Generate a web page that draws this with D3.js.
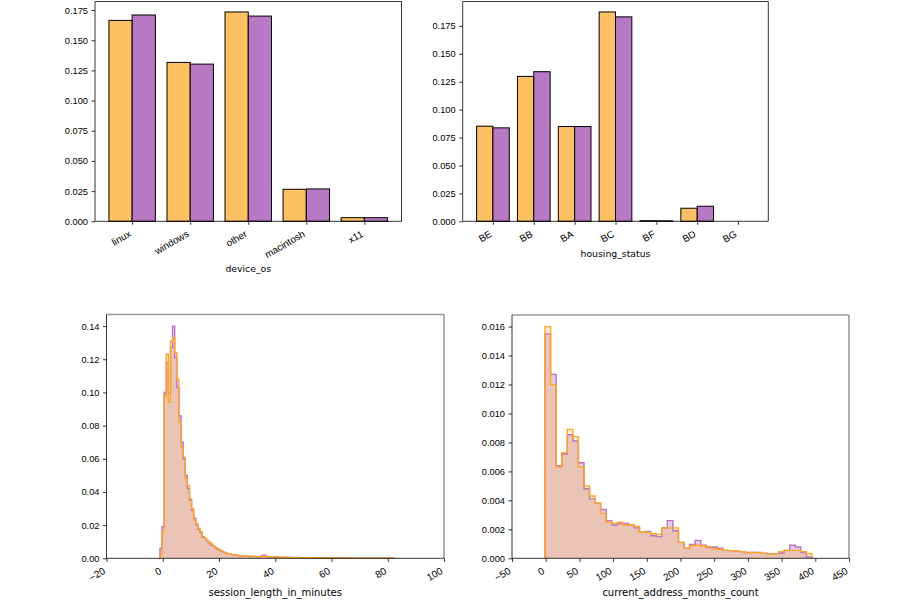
<!DOCTYPE html>
<html>
<head>
<meta charset="utf-8">
<script src="https://cdn.jsdelivr.net/npm/d3@7/dist/d3.min.js"></script>
<style>
  body { margin: 0; background: #fff; }
  svg { display: block; font-family: "DejaVu Sans", sans-serif; }
</style>
</head>
<body>
<svg id="chart" width="902" height="601"></svg>
<script>
// ---- data ----
var deviceOs = ['linux', 'windows', 'other', 'macintosh', 'x11'];
var deviceA  = [0.1664, 0.1316, 0.1734, 0.0265, 0.0030];   // orange
var deviceB  = [0.1709, 0.1302, 0.1700, 0.0268, 0.0030];   // purple

var housing  = ['BE', 'BB', 'BA', 'BC', 'BF', 'BD', 'BG'];
var housingA = [0.0852, 0.1298, 0.0849, 0.1875, 0.0005, 0.0117, 0];
var housingB = [0.0837, 0.1340, 0.0849, 0.1831, 0.0004, 0.0135, 0];

// session_length_in_minutes histogram (density per bin)
var sessStart = -1, sessWidth = 0.75;
var sessA = [0.002, 0.016, 0.098, 0.123, 0.094, 0.131, 0.133, 0.124, 0.108, 0.082,
  0.067, 0.061, 0.048, 0.044, 0.036, 0.030, 0.023, 0.021, 0.018, 0.016,
  0.0125, 0.0122, 0.011, 0.009, 0.0086, 0.0075, 0.0066, 0.0052, 0.0051, 0.0043,
  0.0037, 0.0033, 0.0028, 0.0024, 0.0023, 0.0019, 0.0019, 0.0016, 0.0016, 0.0013,
  0.0014, 0.0012, 0.0012, 0.0010, 0.0011, 0.0009, 0.0010, 0.0009, 0.0012, 0.0013,
  0.0011, 0.0010, 0.0009, 0.0008, 0.0008, 0.0007, 0.0007, 0.0006, 0.0006, 0.0006,
  0.0005, 0.0005, 0.0004, 0.0005, 0.0004, 0.0004, 0.0003, 0.0004, 0.0003, 0.0003,
  0.0004, 0.0003, 0.0003, 0.0002, 0.0003, 0.0003, 0.0002, 0.0002, 0.0002, 0.0003,
  0.0002, 0.0002, 0.0002, 0.0001, 0.0002, 0.0002, 0.0001, 0.0001, 0.0002, 0.0001,
  0.0001, 0.0001, 0.0001, 0.0001, 0.0001, 0.0001, 0.0001, 0.0001, 0.0001, 0.0001,
  0.0001, 0.0001, 0.0001, 0.0001, 0.0001, 0.0001, 0.0001, 0.0001, 0.0001, 0.0001, 0.0001];
var sessB = [0.006, 0.019, 0.100, 0.118, 0.100, 0.127, 0.140, 0.121, 0.103, 0.086,
  0.070, 0.060, 0.050, 0.042, 0.035, 0.029, 0.024, 0.020, 0.0175, 0.0155,
  0.013, 0.012, 0.0105, 0.0095, 0.008, 0.0072, 0.0062, 0.0056, 0.0048, 0.0041,
  0.0036, 0.0031, 0.0028, 0.0025, 0.0022, 0.0020, 0.0018, 0.0017, 0.0015, 0.0014,
  0.0013, 0.0012, 0.0011, 0.0012, 0.0010, 0.0011, 0.0009, 0.0010, 0.0015, 0.0018,
  0.0013, 0.0009, 0.0008, 0.0009, 0.0007, 0.0008, 0.0006, 0.0007, 0.0006, 0.0005,
  0.0006, 0.0005, 0.0005, 0.0004, 0.0004, 0.0005, 0.0004, 0.0003, 0.0004, 0.0003,
  0.0003, 0.0003, 0.0002, 0.0003, 0.0003, 0.0002, 0.0002, 0.0003, 0.0002, 0.0002,
  0.0002, 0.0002, 0.0001, 0.0002, 0.0002, 0.0001, 0.0002, 0.0001, 0.0001, 0.0001,
  0.0002, 0.0001, 0.0001, 0.0001, 0.0001, 0.0001, 0.0001, 0.0001, 0.0001, 0.0001,
  0.0001, 0.0001, 0.0001, 0.0001, 0.0001, 0.0001, 0.0001, 0.0001, 0.0001, 0.0001, 0.0001];

// current_address_months_count histogram
var addrStart = -1, addrWidth = 8.25;
var addrA = [0.0160, 0.0120, 0.0063, 0.0073, 0.0089, 0.0084, 0.0063, 0.0050, 0.0043, 0.0038,
  0.0031, 0.0025, 0.0024, 0.0025, 0.0023, 0.0023, 0.0022, 0.0018, 0.0018, 0.0017,
  0.00165, 0.0021, 0.0021, 0.0021, 0.0011, 0.0007, 0.00085, 0.0009, 0.00085, 0.0008,
  0.00066, 0.00062, 0.00055, 0.00053, 0.0005, 0.00046, 0.0004, 0.00041, 0.00038, 0.00034,
  0.0003, 0.00032, 0.00046, 0.00055, 0.00055, 0.00055, 0.00046, 0.00032];
var addrB = [0.0155, 0.0127, 0.0064, 0.0072, 0.00853, 0.0081, 0.0066, 0.0048, 0.0041, 0.0038,
  0.00337, 0.0026, 0.0023, 0.0024, 0.0024, 0.0023, 0.0021, 0.0018, 0.00186, 0.00156,
  0.0015, 0.0021, 0.0026, 0.0019, 0.0011, 0.0007, 0.00096, 0.00124, 0.0009, 0.00075,
  0.00078, 0.00069, 0.00055, 0.00053, 0.00048, 0.00046, 0.0004, 0.0004, 0.00041, 0.00034,
  0.0003, 0.00032, 0.00037, 0.00055, 0.0009, 0.00078, 0.0004, 0.0001];

var deviceTicks  = [0, 0.025, 0.05, 0.075, 0.1, 0.125, 0.15, 0.175];
var housingTicks = [0, 0.025, 0.05, 0.075, 0.1, 0.125, 0.15, 0.175];
var sessYTicks   = [0, 0.02, 0.04, 0.06, 0.08, 0.1, 0.12, 0.14];
var sessXTicks   = [-20, 0, 20, 40, 60, 80, 100];
var addrYTicks   = [0, 0.002, 0.004, 0.006, 0.008, 0.010, 0.012, 0.014, 0.016];
var addrXTicks   = [-50, 0, 50, 100, 150, 200, 250, 300, 350, 400, 450];

// ---- style ----
var FS = 9.3;
var barA = '#FDC062', barB = '#B778C4';
var fillA = 'rgba(255,165,0,0.2)', fillB = 'rgba(128,0,128,0.2)';
var lineA = '#FFA526', lineB = '#B872C6';

var svg = d3.select('#chart');

function minusFmt(f) {
  return function(d){ return d3.format(f)(d).replace('-', '\u2212'); };
}

function drawAxes(box, x, y, xTickVals, xFmt, yTickVals, yFmt, xLabel, grayTR, xfs, lfs) {
  var g = svg.append('g');

  // y axis
  var ya = g.append('g').attr('transform', 'translate(' + box.x0 + ',0)')
    .call(d3.axisLeft(y).tickValues(yTickVals).tickFormat(yFmt).tickSize(3.5).tickPadding(3.5));
  ya.select('.domain').remove();
  ya.selectAll('line').attr('stroke', '#000').attr('stroke-width', 0.8);
  ya.selectAll('text').attr('font-size', FS).attr('fill', '#000').attr('font-family', null);

  // x axis, rotated labels
  var xa = g.append('g').attr('transform', 'translate(0,' + box.y1 + ')')
    .call(d3.axisBottom(x).tickValues(xTickVals).tickFormat(xFmt).tickSize(3.5));
  xa.select('.domain').remove();
  xa.selectAll('line').attr('stroke', '#000').attr('stroke-width', 0.8);
  xa.selectAll('.tick text')
    .attr('font-size', xfs).attr('fill', '#000').attr('font-family', null)
    .attr('text-anchor', 'end')
    .attr('x', -4.5).attr('y', 8.5).attr('dy', '0.72em')
    .attr('transform', 'rotate(-30,-4.5,8.5)');

  var bb = xa.node().getBBox();
  var bottom = box.y1 + bb.y + bb.height;
  g.append('text')
    .attr('x', (box.x0 + box.x1) / 2).attr('y', bottom + 12.5)
    .attr('text-anchor', 'middle').attr('font-size', lfs)
    .text(xLabel);

  // spines
  var sp = g.append('g').attr('fill', 'none');
  var tr = grayTR ? '#9a9a9a' : '#000', trw = grayTR ? 1.6 : 0.8;
  sp.append('line').attr('x1', box.x0).attr('x2', box.x1).attr('y1', box.y0).attr('y2', box.y0).attr('stroke', tr).attr('stroke-width', trw);
  sp.append('line').attr('x1', box.x1).attr('x2', box.x1).attr('y1', box.y0).attr('y2', box.y1).attr('stroke', tr).attr('stroke-width', trw);
  sp.append('line').attr('x1', box.x0).attr('x2', box.x0).attr('y1', box.y0).attr('y2', box.y1).attr('stroke', '#000').attr('stroke-width', 0.8);
  sp.append('line').attr('x1', box.x0).attr('x2', box.x1).attr('y1', box.y1).attr('y2', box.y1).attr('stroke', '#000').attr('stroke-width', 0.8);
}

function barPanel(box, cats, a, b, yTickVals, xLabel) {
  var n = cats.length;
  var ymax = d3.max(a.concat(b)) * 1.05;
  var x = d3.scaleLinear().domain([-0.4 - 0.05 * (n - 0.2), n - 0.6 + 0.05 * (n - 0.2)]).range([box.x0, box.x1]);
  var y = d3.scaleLinear().domain([0, ymax]).range([box.y1, box.y0]);
  var g = svg.append('g');
  [[a, -0.4, barA], [b, 0, barB]].forEach(function(s){
    g.selectAll(null).data(s[0]).enter().append('rect')
      .attr('x', function(d, i){ return x(i + s[1]); })
      .attr('width', function(d, i){ return x(i + s[1] + 0.4) - x(i + s[1]); })
      .attr('y', function(d){ return y(d); })
      .attr('height', function(d){ return y(0) - y(d); })
      .attr('fill', s[2]).attr('stroke', '#000').attr('stroke-width', 1);
  });
  drawAxes(box, x, y, d3.range(n), function(i){ return cats[i]; },
           yTickVals, d3.format('.3f'), xLabel, false, 9.8, FS);
}

function stepPath(x, y, start, w, vals, close) {
  var p = [[x(start), y(0)]];
  vals.forEach(function(v, i){
    p.push([x(start + i * w), y(v)]);
    p.push([x(start + (i + 1) * w), y(v)]);
  });
  p.push([x(start + vals.length * w), y(0)]);
  return 'M' + p.map(function(q){ return q[0].toFixed(2) + ',' + q[1].toFixed(2); }).join('L') + (close ? 'Z' : '');
}

function histPanel(box, xDom, start, w, a, b, yTickVals, yFmt, xTickVals, xLabel) {
  var ymax = d3.max(a.concat(b)) * 1.05;
  var x = d3.scaleLinear().domain(xDom).range([box.x0, box.x1]);
  var y = d3.scaleLinear().domain([0, ymax]).range([box.y1, box.y0]);
  var g = svg.append('g');
  g.append('path').attr('d', stepPath(x, y, start, w, b, true)).attr('fill', fillB);
  g.append('path').attr('d', stepPath(x, y, start, w, a, true)).attr('fill', fillA);
  g.append('path').attr('d', stepPath(x, y, start, w, b, false)).attr('fill', 'none')
    .attr('stroke', lineB).attr('stroke-width', 1.4);
  g.append('path').attr('d', stepPath(x, y, start, w, a, false)).attr('fill', 'none')
    .attr('stroke', lineA).attr('stroke-width', 1.4);
  drawAxes(box, x, y, xTickVals, minusFmt('d'), yTickVals, yFmt, xLabel, true, 10, 10);
}

barPanel({x0: 95, x1: 401.5, y0: 1.5, y1: 221.3}, deviceOs, deviceA, deviceB, deviceTicks, 'device_os');
barPanel({x0: 462.7, x1: 768.3, y0: 1.5, y1: 221.3}, housing, housingA, housingB, housingTicks, 'housing_status');
histPanel({x0: 106.5, x1: 444, y0: 314.5, y1: 558.3}, [-20, 100], sessStart, sessWidth, sessA, sessB,
          sessYTicks, d3.format('.2f'), sessXTicks, 'session_length_in_minutes');
histPanel({x0: 512, x1: 849, y0: 315, y1: 558.3}, [-50, 450], addrStart, addrWidth, addrA, addrB,
          addrYTicks, d3.format('.3f'), addrXTicks, 'current_address_months_count');
</script>
</body>
</html>
